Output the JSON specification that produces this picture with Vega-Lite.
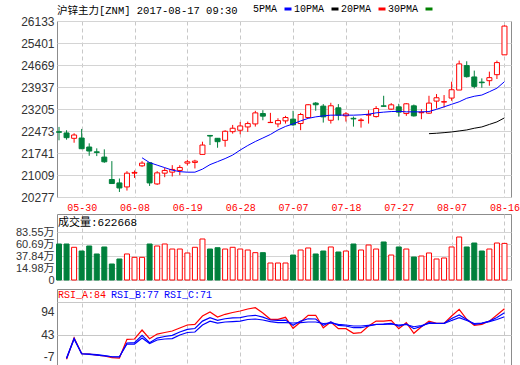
{
"$schema": "https://vega.github.io/schema/vega-lite/v6.json",
"padding": {"left": 10, "top": 3, "right": 0, "bottom": 0},
"background": "white",
"spacing": 0,
"datasets": {
"k": [
{"d":"05-24","o":22450,"h":22608,"l":22164,"c":22430,"v":61.1},
{"d":"05-25","o":22408,"h":22498,"l":22184,"c":22251,"v":61.1,"ra":-12.5,"rb":-9.6,"rc":-10.7},
{"d":"05-26","o":22230,"h":22398,"l":22083,"c":22340,"v":54.8,"ra":35.8,"rb":34,"rc":33},
{"d":"05-30","o":22240,"h":22542,"l":21870,"c":21883,"v":47.7,"ra":0,"rb":0,"rc":0},
{"d":"05-31","o":21940,"h":22063,"l":21648,"c":21807,"v":57.3,"ra":-0.6,"rb":-0.6,"rc":-1.3},
{"d":"06-01","o":21780,"h":21896,"l":21638,"c":21760,"v":42,"ra":-2.9,"rb":-1.7,"rc":-2.9},
{"d":"06-02","o":21605,"h":21863,"l":21414,"c":21448,"v":55.4,"ra":-5,"rb":-4,"rc":-5},
{"d":"06-05","o":20859,"h":21471,"l":20715,"c":20725,"v":22.8,"ra":-8.9,"rb":-6.7,"rc":-6.7},
{"d":"06-06","o":20745,"h":20892,"l":20444,"c":20578,"v":32.4,"ra":-9.6,"rb":-7.3,"rc":-6.7},
{"d":"06-07","o":20612,"h":21137,"l":20491,"c":21070,"v":42,"ra":32.3,"rb":24,"rc":21.7},
{"d":"06-08","o":21070,"h":21160,"l":20912,"c":21095,"v":35.6,"ra":33,"rb":24.7,"rc":21.7},
{"d":"06-09","o":21314,"h":21471,"l":21280,"c":21404,"v":35.6,"m5":21582,"ra":53,"rb":41.2,"rc":35},
{"d":"06-12","o":21414,"h":21438,"l":20645,"c":20745,"v":61.1,"m5":21421,"ra":33.6,"rb":24.7,"rc":23},
{"d":"06-13","o":20712,"h":21137,"l":20678,"c":21080,"v":57.3,"m5":21337,"ra":44,"rb":35,"rc":30.7},
{"d":"06-14","o":21070,"h":21247,"l":20936,"c":21160,"v":61.1,"m5":21254,"ra":47.5,"rb":38.5,"rc":33},
{"d":"06-15","o":21104,"h":21337,"l":20959,"c":21194,"v":51.5,"m5":21170,"ra":50.8,"rb":41.2,"rc":34},
{"d":"06-16","o":21160,"h":21337,"l":21003,"c":21260,"v":51.5,"m5":21120,"ra":57.5,"rb":48.6,"rc":41.9},
{"d":"06-19","o":21404,"h":21515,"l":21327,"c":21448,"v":43.9,"m5":21103,"ra":64.3,"rb":54.6,"rc":47.5},
{"d":"06-20","o":21427,"h":21515,"l":21227,"c":21471,"v":54.8,"m5":21103,"ra":65.8,"rb":56.4,"rc":48.6},
{"d":"06-21","o":21695,"h":22117,"l":21695,"c":22006,"v":70.7,"m5":21204,"ra":84.4,"rb":73,"rc":64.3},
{"d":"06-22","o":22325,"h":22341,"l":22006,"c":22305,"v":51.5,"m5":21354,"ra":93.3,"rb":80.6,"rc":73},
{"d":"06-23","o":22230,"h":22240,"l":21916,"c":22117,"v":54,"m5":21454,"ra":82.1,"rb":74.8,"rc":68.7},
{"d":"06-26","o":22163,"h":22498,"l":21949,"c":22464,"v":51.5,"m5":21555,"ra":88.2,"rb":78.3,"rc":71},
{"d":"06-27","o":22451,"h":22675,"l":22385,"c":22565,"v":54.8,"m5":21672,"ra":92.2,"rb":80,"rc":72},
{"d":"06-28","o":22498,"h":22775,"l":22364,"c":22641,"v":51.5,"m5":21839,"ra":95.6,"rb":80.6,"rc":73},
{"d":"06-29","o":22608,"h":22787,"l":22442,"c":22720,"v":49.6,"m5":21990,"ra":100,"rb":84.4,"rc":76.6},
{"d":"06-30","o":22708,"h":23144,"l":22620,"c":23076,"v":44.5,"m5":22123,"ra":103,"rb":86,"rc":77.7},
{"d":"07-03","o":23054,"h":23165,"l":22831,"c":22967,"v":44.5,"m5":22240,"ra":91,"rb":82,"rc":75.4},
{"d":"07-04","o":22753,"h":23077,"l":22750,"c":22760,"v":24.7,"m5":22358,"ra":77,"rb":75.4,"rc":72},
{"d":"07-05","o":22708,"h":22898,"l":22598,"c":22820,"v":24.7,"m5":22508,"ra":77,"rb":74.8,"rc":69.4},
{"d":"07-06","o":22810,"h":22977,"l":22720,"c":22921,"v":24.7,"m5":22625,"ra":81.5,"rb":75.4,"rc":69.4},
{"d":"07-07","o":22868,"h":23146,"l":22645,"c":22678,"v":40,"m5":22709,"ra":57,"rb":63.6,"rc":68.7},
{"d":"07-10","o":22721,"h":23077,"l":22500,"c":23022,"v":49.6,"m5":22809,"ra":71,"rb":73,"rc":69.8},
{"d":"07-11","o":22922,"h":23368,"l":22922,"c":23346,"v":53.5,"m5":22893,"ra":86,"rb":78.3,"rc":71},
{"d":"07-12","o":23401,"h":23435,"l":23146,"c":23346,"v":42,"m5":22943,"ra":86,"rb":77.7,"rc":71},
{"d":"07-13","o":23301,"h":23368,"l":22753,"c":22943,"v":47.7,"m5":22976,"ra":58,"rb":63.6,"rc":67.6},
{"d":"07-14","o":22830,"h":23412,"l":22720,"c":23312,"v":55.4,"m5":23000,"ra":71,"rb":71,"rc":68.7},
{"d":"07-17","o":23245,"h":23368,"l":22830,"c":23001,"v":45.8,"m5":23000,"ra":56,"rb":63.6,"rc":65.8},
{"d":"07-18","o":22976,"h":23099,"l":22786,"c":23043,"v":47.7,"m5":23000,"ra":56,"rb":62,"rc":64.3},
{"d":"07-19","o":22895,"h":22953,"l":22619,"c":22875,"v":61.1,"m5":23000,"ra":45.7,"rb":58.2,"rc":62},
{"d":"07-20","o":22820,"h":22900,"l":22585,"c":22840,"v":49.6,"m5":23010,"ra":47,"rb":58.2,"rc":62},
{"d":"07-21","o":23000,"h":23167,"l":22719,"c":23020,"v":59.2,"m5":23033,"ra":62,"rb":62,"rc":63.6},
{"d":"07-24","o":22953,"h":23301,"l":22920,"c":23220,"v":51.5,"m5":23077,"ra":73,"rb":65.8,"rc":65.4},
{"d":"07-25","o":23310,"h":23645,"l":23277,"c":23295,"v":65,"m5":23100,"ra":73,"rb":66.5,"rc":65.8},
{"d":"07-26","o":23200,"h":23401,"l":23177,"c":23344,"v":40,"m5":23120,"ra":74.8,"rb":68,"rc":66.5},
{"d":"07-27","o":23277,"h":23378,"l":22953,"c":23100,"v":55.4,"m5":23127,"ra":56,"rb":62,"rc":64.3},
{"d":"07-28","o":23053,"h":23401,"l":22976,"c":23378,"v":51.5,"m5":23110,"ra":69.4,"rb":66.5,"rc":65.4},
{"d":"07-31","o":23311,"h":23354,"l":22953,"c":22976,"v":36.2,"m5":23110,"ra":45.7,"rb":56,"rc":60.4},
{"d":"08-01","o":23080,"h":23200,"l":22866,"c":23095,"v":38.1,"m5":23110,"ra":60.4,"rb":61.3,"rc":63.1},
{"d":"08-02","o":23067,"h":23645,"l":23043,"c":23401,"v":43.9,"m5":23120,"m10":22384,"ra":73,"rb":69.4,"rc":67.6},
{"d":"08-03","o":23468,"h":23702,"l":23221,"c":23579,"v":32.4,"m5":23194,"m10":22398,"ra":68,"rb":68,"rc":67.6},
{"d":"08-04","o":23435,"h":23669,"l":23254,"c":23450,"v":34.3,"m5":23277,"m10":22418,"ra":68,"rb":68,"rc":67.6},
{"d":"08-07","o":23568,"h":24114,"l":23478,"c":23846,"v":55.4,"m5":23361,"m10":22441,"ra":84.4,"rb":78.8,"rc":74.3},
{"d":"08-08","o":23836,"h":24816,"l":23836,"c":24706,"v":74.5,"m5":23445,"m10":22475,"ra":99.4,"rb":86.6,"rc":80.6},
{"d":"08-09","o":24649,"h":24793,"l":24248,"c":24281,"v":55.4,"m5":23562,"m10":22508,"ra":77,"rb":76.6,"rc":74.3},
{"d":"08-10","o":24271,"h":24482,"l":23890,"c":23957,"v":63,"m5":23629,"m10":22565,"ra":63.6,"rb":65.8,"rc":67.6},
{"d":"08-11","o":24100,"h":24224,"l":23913,"c":24080,"v":47.7,"m5":23669,"m10":22608,"ra":65.8,"rb":68,"rc":68.7},
{"d":"08-14","o":24147,"h":24448,"l":23980,"c":24248,"v":51.5,"m5":23779,"m10":22692,"ra":73,"rb":73,"rc":72},
{"d":"08-15","o":24347,"h":24816,"l":24204,"c":24749,"v":63,"m5":23896,"m10":22776,"ra":86.6,"rb":81,"rc":76.6},
{"d":"08-16","o":25007,"h":25987,"l":25007,"c":25964,"v":62.27,"m5":24114,"m10":22910,"ra":100.7,"rb":91.8,"rc":82.8}
],
"leg": [{"k":"a"},{"k":"b"},{"k":"c"},{"k":"d"},{"k":"e"}]
},
"resolve": {"scale": {"x": "independent", "y": "independent", "color": "independent"}, "legend": {"color": "independent"}},
"config": {
  "view": {"stroke": "#8c8c8c", "strokeWidth": 1},
  "axis": {"labelFont": "Liberation Sans", "labelFontSize": 12, "labelColor": "#333333", "ticks": false, "domain": false, "gridColor": "#d4d4d4", "labelPadding": 3, "labelOverlap": false},
  "axisY": {"minExtent": 46, "maxExtent": 46, "labelOverlap": false}
},
"vconcat": [
{
  "width": 454, "height": 176,
  "title": {"text": "沪锌主力[ZNM] 2017-08-17 09:30", "anchor": "start", "frame": "group", "font": "Liberation Mono, Noto Sans CJK SC", "fontSize": 10.5, "fontWeight": "normal", "color": "#000000", "offset": -12},
  "data": {"name": "k"},
  "layer": [
    {"mark": {"type": "rule", "strokeWidth": 1},
     "encoding": {
       "x": {"field": "d", "type": "ordinal", "sort": null, "scale": {"type": "point", "padding": 0.565, "align": 0.235},
             "axis": {"title": null, "values": ["05-30","06-08","06-19","06-28","07-07","07-18","07-27","08-07","08-16"], "labelColor": "#ff0000", "labelFont": "Liberation Mono", "labelFontSize": 10, "labelPadding": 5, "labelAngle": 0, "grid": true, "gridDash": [4,3], "gridColor": "#c8c8c8", "minExtent": 15, "maxExtent": 15}},
       "y": {"field": "l", "type": "quantitative", "scale": {"domain": [20277, 26133], "nice": false, "zero": false},
             "axis": {"title": null, "values": [20277,21009,21741,22473,23205,23937,24669,25401,26133], "tickCount": 20, "format": "d", "grid": true, "labelOverlap": false}},
       "y2": {"field": "h"},
       "color": {"condition": {"test": "datum.c >= datum.o", "value": "#ff0000"}, "value": "#00803c"}
     }},
    {"mark": {"type": "bar", "size": 5, "strokeWidth": 1},
     "encoding": {
       "x": {"field": "d", "type": "ordinal", "sort": null},
       "y": {"field": "o", "type": "quantitative"},
       "y2": {"field": "c"},
       "fill": {"condition": {"test": "datum.c >= datum.o", "value": "#ffffff"}, "value": "#00803c"},
       "stroke": {"condition": {"test": "datum.c >= datum.o", "value": "#ff0000"}, "value": "#00803c"}
     }},
    {"mark": {"type": "line", "color": "#0000ff", "strokeWidth": 1},
     "encoding": {"x": {"field": "d", "type": "ordinal", "sort": null}, "y": {"field": "m5", "type": "quantitative"}}},
    {"mark": {"type": "line", "color": "#000000", "strokeWidth": 1},
     "encoding": {"x": {"field": "d", "type": "ordinal", "sort": null}, "y": {"field": "m10", "type": "quantitative"}}},
    {"data": {"name": "leg"},
     "mark": {"type": "point", "opacity": 0, "shape": "stroke", "filled": false},
     "encoding": {
       "color": {"field": "k", "type": "nominal",
         "scale": {"domain": ["a","b","c","d","e"], "range": ["rgba(0,0,0,0)","#0000ff","#000000","#ff0000","#008000"]},
         "legend": {"title": null, "orient": "none", "legendX": 185, "legendY": -17, "direction": "horizontal", "symbolType": "stroke", "symbolSize": 49, "symbolStrokeWidth": 3, "symbolOpacity": 1, "labelFont": "Liberation Mono", "labelFontSize": 10, "labelColor": "#000000", "labelOffset": 1, "columnPadding": 0,
           "labelExpr": "datum.label == 'a' ? '5PMA' : datum.label == 'b' ? '10PMA' : datum.label == 'c' ? '20PMA' : datum.label == 'd' ? '30PMA' : ''"}}
     }}
  ]
},
{
  "width": 454, "height": 66,
  "title": {"text": "成交量:622668", "anchor": "start", "frame": "group", "font": "Liberation Mono, Noto Sans CJK SC", "fontSize": 11, "fontWeight": "normal", "color": "#000000", "offset": -14, "dx": 1},
  "data": {"name": "k"},
  "mark": {"type": "bar", "size": 5, "strokeWidth": 1},
  "encoding": {
    "x": {"field": "d", "type": "ordinal", "sort": null, "scale": {"type": "point", "padding": 0.565, "align": 0.235},
          "axis": {"title": null, "values": ["05-30","06-08","06-19","06-28","07-07","07-18","07-27","08-07","08-16"], "labels": false, "grid": true, "gridDash": [4,3], "gridColor": "#c8c8c8", "minExtent": 7, "maxExtent": 7}},
    "y": {"field": "v", "type": "quantitative", "scale": {"domain": [-7.87, 118.6], "nice": false, "zero": false},
          "axis": {"title": null, "values": [-7.87, 14.98, 37.84, 60.69, 83.55], "grid": true, "labelOverlap": false, "labelFontSize": 11, "labelExpr": "datum.value < 0 ? '0' : format(datum.value, '.2f') + '万'", "labelFont": "Liberation Sans, Noto Sans CJK SC"}},
    "y2": {"datum": -7.87},
    "fill": {"condition": {"test": "datum.c >= datum.o", "value": "#ffffff"}, "value": "#00803c"},
    "stroke": {"condition": {"test": "datum.c >= datum.o", "value": "#ff0000"}, "value": "#00803c"}
  }
},
{
  "width": 454, "height": 76,
  "data": {"name": "k"},
  "transform": [{"fold": ["ra","rb","rc"], "as": ["s","val"]}],
  "mark": {"type": "line", "strokeWidth": 1.2},
  "encoding": {
    "x": {"field": "d", "type": "ordinal", "sort": null, "scale": {"type": "point", "padding": 0.565, "align": 0.235},
          "axis": {"title": null, "values": ["05-30","06-08","06-19","06-28","07-07","07-18","07-27","08-07","08-16"], "labels": false, "grid": true, "gridDash": [4,3], "gridColor": "#c8c8c8"}},
    "y": {"field": "val", "type": "quantitative", "scale": {"domain": [-25.2, 144.8], "nice": false, "zero": false},
          "axis": {"title": null, "values": [-7, 43, 94, 115.7], "grid": true, "labelOverlap": false, "labelExpr": "datum.value > 100 ? '' : '' + datum.value",
                   "gridColor": {"condition": {"test": "datum.value == 43 || datum.value > 100", "value": "#c8c8c8"}, "value": "rgba(0,0,0,0)"}}},
    "color": {"field": "s", "type": "nominal", "scale": {"domain": ["ra","rb","rc"], "range": ["#ff0000","#0000ff","#0000ff"]},
      "legend": {"title": null, "orient": "none", "legendX": 1, "legendY": 1, "direction": "horizontal", "symbolType": "circle", "symbolSize": 1, "symbolOpacity": 0, "labelOffset": -10, "columnPadding": 4, "labelFont": "Liberation Mono", "labelFontSize": 10,
        "labelExpr": "datum.label == 'ra' ? 'RSI_A:84' : datum.label == 'rb' ? 'RSI_B:77' : 'RSI_C:71'",
        "encode": {"labels": {"update": {"fill": {"signal": "datum.value == 'ra' ? '#ff0000' : '#0000ff'"}}}}}}
  }
}
]
}
